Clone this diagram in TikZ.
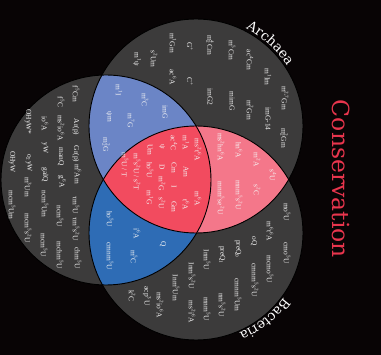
\documentclass[tikz,border=0pt]{standalone}
\usepackage{fontspec}
\setmainfont{Liberation Serif}
\newfontfamily\titlefont{DejaVu Serif}
\usetikzlibrary{decorations.text,calc}
\definecolor{bg}{HTML}{080405}
\definecolor{gry}{HTML}{3C3B3B}
\definecolor{lblue}{HTML}{6B85C6}
\definecolor{dblue}{HTML}{2E6CB5}
\definecolor{pinkr}{HTML}{F4778A}
\definecolor{redc}{HTML}{F24B5F}
\definecolor{titlered}{HTML}{E8354D}
\definecolor{labcol}{HTML}{F4F4F4}
\newcommand{\su}[1]{\textsuperscript{#1}}
\newcommand{\sbs}[1]{\textsubscript{#1}}
\newcommand{\supsub}[2]{\rlap{\textsuperscript{#1}}\textsubscript{#2}}
\newcommand{\arcfont}{\titlefont\fontsize{13.5}{16}\selectfont}
\tikzset{
  lab/.style={rotate=-90, font=\fontsize{7.4}{8}\selectfont, text=labcol, inner sep=0pt},
  ring/.style={draw=black, line width=0.9pt}
}
\begin{document}
\begin{tikzpicture}[x=1pt,y=1pt]
\useasboundingbox (0,0) rectangle (381,-355);
\fill[bg] (0,0) rectangle (381,-355);
\coordinate (cE) at (106,-180);
\coordinate (cA) at (196,-126);
\coordinate (cB) at (196,-233);
\fill[gry] (cE) circle[radius=105] (cA) circle[radius=107] (cB) circle[radius=107];
\begin{scope}
  \clip (cE) circle[radius=105];
  \fill[lblue] (cA) circle[radius=107];
  \fill[dblue] (cB) circle[radius=107];
\end{scope}
\begin{scope}
  \clip (cA) circle[radius=107];
  \fill[pinkr] (cB) circle[radius=107];
  \begin{scope}
    \clip (cE) circle[radius=105];
    \fill[redc] (cB) circle[radius=107];
  \end{scope}
\end{scope}
\draw[ring] (cE) circle[radius=105];
\draw[ring] (cA) circle[radius=107];
\draw[ring] (cB) circle[radius=107];

% curved labels
\coordinate (arcA) at ($(cA)+(66:109)$);
\coordinate (arcB) at ($(cB)+(-33:109)$);
\path[decorate, decoration={text along path, text={|\arcfont|Archaea}, text align=center, text color=white}]
  (arcA) arc[start angle=66, end angle=30, radius=109];
\path[decorate, decoration={text along path, text={|\arcfont|Bacteria}, text align=center, text color=white}]
  (arcB) arc[start angle=-33, end angle=-70, radius=109];

% title
\node[rotate=-90, font=\titlefont\fontsize{23.5}{28}\selectfont, text=titlered, inner sep=0pt] (title) at (341,-179) {Conservation};

% Archaea only
\node[lab] (a1) at (137,-59) {m\su{1}ψ};
\node[lab] (a2) at (154,-59) {s\su{2}Um};
\node[lab] (a3) at (173,-43) {m\su{1}Gm};
\node[lab] (a4) at (173,-77) {ac\su{6}A};
\node[lab] (a5) at (190,-47) {G\su{+}};
\node[lab] (a6) at (190,-82) {C\su{+}};
\node[lab] (a7) at (210,-45) {m\supsub{4}{2}Cm};
\node[lab] (a8) at (210,-97) {imG2};
\node[lab] (a9) at (232,-50) {m\su{5}Cm};
\node[lab] (a10) at (232,-101) {mimG};
\node[lab] (a11) at (250,-60) {ac\su{4}Cm};
\node[lab] (a12) at (250,-110) {m\su{2}Gm};
\node[lab] (a13) at (268,-77) {m\su{1}Im};
\node[lab] (a14) at (268,-119) {imG-14};
\node[lab] (a15) at (285,-98) {m\su{2,7}Gm};
\node[lab] (a16) at (284,-138) {m\supsub{2}{2}Gm};

% Eukarya + Archaea
\node[lab] (u1) at (119,-90) {m\su{1}I};
\node[lab] (u2) at (145,-100) {m\su{3}C};
\node[lab] (u3) at (165,-112) {imG};
\node[lab] (u4) at (109,-117) {ψm};
\node[lab] (u5) at (131,-121) {m\su{7}G};
\node[lab] (u6) at (106,-145) {m\supsub{2}{2}G};

% all three
\node[lab] (c1) at (198,-150) {ms\su{2}t\su{6}A};
\node[lab] (c2) at (198,-199) {m\su{6}A};
\node[lab] (c3) at (186,-143) {m\su{1}A};
\node[lab] (c4) at (186,-172) {Am};
\node[lab] (c5) at (186,-205) {t\su{6}A};
\node[lab] (c6) at (174,-143) {ac\su{4}C};
\node[lab] (c7) at (174,-168) {Cm};
\node[lab] (c8) at (174,-187) {I};
\node[lab] (c9) at (174,-207) {Gm};
\node[lab] (c10) at (162,-147) {ψ};
\node[lab] (c11) at (162,-167) {D};
\node[lab] (c12) at (162,-184) {m\su{2}G};
\node[lab] (c13) at (162,-203) {s\su{2}U};
\node[lab] (c14) at (150,-150) {Um};
\node[lab] (c15) at (150,-170) {ho\su{5}U};
\node[lab] (c16) at (150,-198) {m\su{1}G};
\node[lab] (c17) at (137,-172) {m\su{5}s\su{2}U / s\su{2}T};
\node[lab] (c18) at (125,-165) {m\su{5}U / T};

% Archaea + Bacteria
\node[lab] (p1) at (221,-147) {ms\su{2}hn\su{6}A};
\node[lab] (p2) at (221,-198) {mnm\su{5}se\su{2}U};
\node[lab] (p3) at (239,-150) {hn\su{6}A};
\node[lab] (p4) at (239,-195) {mnm\su{5}s\su{2}U};
\node[lab] (p5) at (257,-160) {m\su{2}A};
\node[lab] (p6) at (257,-190) {s\su{2}C};
\node[lab] (p7) at (273,-175) {s\su{4}U};

% Bacteria only
\node[lab] (b1) at (287,-212) {mo\su{5}U};
\node[lab] (b2) at (287,-253) {cmo\su{5}U};
\node[lab] (b3) at (270,-231) {m\su{6}t\su{6}A};
\node[lab] (b4) at (270,-269) {mcmo\su{5}U};
\node[lab] (b5) at (254,-241) {oQ};
\node[lab] (b6) at (255,-280) {cmnm\su{5}s\su{2}U};
\node[lab] (b7) at (238,-249) {preQ\sbs{0}};
\node[lab] (b8) at (238,-295) {cmnm\su{5}Um};
\node[lab] (b9) at (222,-255) {preQ\sbs{1}};
\node[lab] (b10) at (222,-305) {nm\su{5}s\su{2}U};
\node[lab] (b11) at (207,-260) {Inm\su{5}U};
\node[lab] (b12) at (207,-309) {mnm\su{5}U};
\node[lab] (b13) at (192,-276) {Inm\su{5}s\su{2}U};
\node[lab] (b14) at (192,-312) {ms\su{2}i\su{6}A};
\node[lab] (b15) at (176,-288) {Inm\su{5}Um};
\node[lab] (b16) at (160,-305) {ms\su{2}io\su{6}A};
\node[lab] (b17) at (147,-296) {acp\su{3}U};
\node[lab] (b18) at (132,-296) {k\su{2}C};

% Eukarya + Bacteria
\node[lab] (d1) at (110,-219) {ho\su{5}U};
\node[lab] (d2) at (110,-256) {cmnm\su{5}U};
\node[lab] (d3) at (137,-234) {i\su{6}A};
\node[lab] (d4) at (163,-244) {Q};
\node[lab] (d5) at (134,-257) {m\su{5}C};

% Eukarya only
\node[lab] (e1) at (76,-94) {f\su{5}Cm};
\node[lab] (e2) at (76,-127) {Ar(p)};
\node[lab] (e3) at (76,-154) {Gr(p)};
\node[lab] (e4) at (78,-174) {m\su{6}Am};
\node[lab] (e5) at (76,-205) {τm\su{5}U};
\node[lab] (e6) at (76,-229) {τm\su{5}s\su{2}U};
\node[lab] (e7) at (78,-258) {chm\su{5}U};
\node[lab] (e8) at (61,-102) {f\su{5}C};
\node[lab] (e9) at (61,-128) {ms\su{2}io\su{6}A};
\node[lab] (e10) at (61,-157) {manQ};
\node[lab] (e11) at (62,-182) {g\su{6}A};
\node[lab] (e12) at (60,-216) {ncm\su{5}U};
\node[lab] (e13) at (60,-255) {mchm\su{5}U};
\node[lab] (e14) at (45,-124) {io\su{6}A};
\node[lab] (e15) at (45,-148) {yW};
\node[lab] (e16) at (45,-175) {galQ};
\node[lab] (e17) at (45,-204) {ncm\su{5}Um};
\node[lab] (e18) at (44,-245) {mcm\su{5}U};
\node[lab] (e19) at (28,-122) {OHyW*};
\node[lab] (e20) at (29,-163) {o\sbs{2}yW};
\node[lab] (e21) at (28,-187) {m\su{3}Um};
\node[lab] (e22) at (28,-228) {mcm\su{5}s\su{2}U};
\node[lab] (e23) at (12,-162) {OHyW};
\node[lab] (e24) at (12,-205) {mcm\su{5}Um};
\end{tikzpicture}
\end{document}
